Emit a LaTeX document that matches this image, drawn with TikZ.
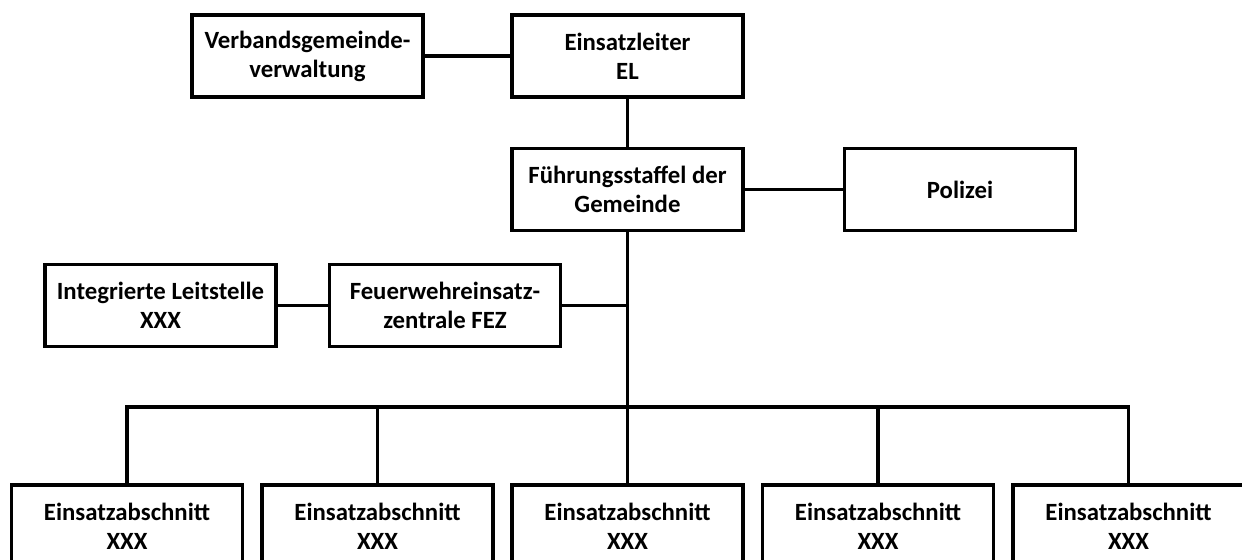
\documentclass[tikz,border=0pt]{standalone}
\usepackage{fontspec}
\setmainfont{Carlito}
\usepackage{tikz}
\usetikzlibrary{positioning}

\tikzset{orgbox/.style={draw, line width=1.8pt, minimum width=4.62cm, minimum height=1.64cm,
                        inner sep=0pt, align=center,
                        font=\fontsize{14.1}{16.6}\selectfont\bfseries}}

\begin{document}
\begin{tikzpicture}[x=0.02cm, y=-0.02cm, line width=1.8pt]

        \useasboundingbox (0,0) rectangle (1242,560);
        \clip (0,0) rectangle (1242,560);

        % Nodes for the top rows
        \node[orgbox] (vgv) at (307.5, 56) {Verbandsgemeinde-\\verwaltung};
        \node[orgbox] (el) at (627.5, 56) {Einsatzleiter\\EL};
        \node[orgbox] (fs) at (627.5, 189.5) {Führungsstaffel der\\Gemeinde};
        \node[orgbox] (pol) at (960, 189.5) {Polizei};
        \node[orgbox] (ils) at (160.5, 305.5) {Integrierte Leitstelle\\XXX};
        \node[orgbox] (fez) at (445, 305.5) {Feuerwehreinsatz-\\zentrale FEZ};

        % Nodes for the sections (cut off at the bottom)
        \node[orgbox] (ea1) at (127, 526) {Einsatzabschnitt\\XXX};
        \node[orgbox] (ea2) at (377.5, 526) {Einsatzabschnitt\\XXX};
        \node[orgbox] (ea3) at (627.5, 526) {Einsatzabschnitt\\XXX};
        \node[orgbox] (ea4) at (878, 526) {Einsatzabschnitt\\XXX};
        \node[orgbox] (ea5) at (1128.5, 526) {Einsatzabschnitt\\XXX};

        % Edges for the top rows
        \draw[-] (vgv) -- (el);
        \draw[-] (el) -- (fs);
        \draw[-] (fs) -- (pol);
        \draw[-] (ils) -- (fez);

        % Trunk and bus to the sections
        \coordinate (bus) at (627.5, 407);
        \draw[-] (fs.south) -- (ea3.north);
        \draw[-] (fez.east) -- (fez.east -| fs.south);
        \draw[-] (ea1.north) |- (bus) -| (ea5.north);
        \draw[-] (ea2.north) -- (ea2.north |- bus);
        \draw[-] (ea4.north) -- (ea4.north |- bus);

    \end{tikzpicture}
\end{document}
